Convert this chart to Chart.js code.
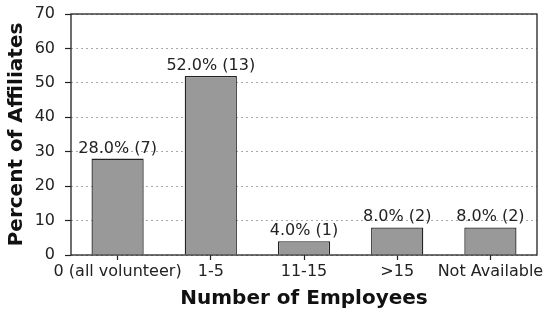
<!DOCTYPE html>
<html>
<head>
<meta charset="utf-8">
<script src="https://cdn.jsdelivr.net/npm/chart.js@4.4.1/dist/chart.umd.min.js"></script>
<style>
  html, body { margin: 0; padding: 0; background: #fff; }
  #wrap { position: relative; width: 550px; height: 322px; }
</style>
</head>
<body>
<div id="wrap"><canvas id="c"></canvas></div>
<script>
'use strict';

// data
var categories = ['0 (all volunteer)', '1-5', '11-15', '>15', 'Not Available'];
var percents = [28.0, 52.0, 4.0, 8.0, 8.0];
var counts = [7, 13, 1, 2, 2];
var yTicks = [0, 10, 20, 30, 40, 50, 60, 70];

var FONT = "'DejaVu Sans', sans-serif";
var INK = '#222';

// value labels above each bar
var barLabels = {
  id: 'barLabels',
  afterDatasetsDraw: function (chart) {
    var ctx = chart.ctx;
    var meta = chart.getDatasetMeta(0);
    ctx.save();
    ctx.font = '16px ' + FONT;
    ctx.fillStyle = INK;
    ctx.textAlign = 'center';
    ctx.textBaseline = 'alphabetic';
    meta.data.forEach(function (bar, i) {
      var txt = percents[i].toFixed(1) + '% (' + counts[i] + ')';
      ctx.fillText(txt, bar.x, bar.y - 6);
    });
    ctx.restore();
  }
};

// box round the plot area
var frame = {
  id: 'frame',
  afterDraw: function (chart) {
    var a = chart.chartArea, ctx = chart.ctx;
    ctx.save();
    ctx.strokeStyle = INK;
    ctx.lineWidth = 1.3;
    ctx.strokeRect(a.left, a.top, a.right - a.left, a.bottom - a.top);
    ctx.restore();
  }
};

new Chart(document.getElementById('c'), {
  type: 'bar',
  data: {
    labels: categories,
    datasets: [{
      data: percents,
      backgroundColor: '#999999',
      borderColor: INK,
      borderWidth: 1.3,
      barPercentage: 0.56,
      categoryPercentage: 1.0
    }]
  },
  plugins: [barLabels, frame],
  options: {
    responsive: true,
    maintainAspectRatio: false,
    animation: false,
    layout: { padding: { top: 14, right: 13, left: 0, bottom: 0 } },
    plugins: { legend: { display: false }, tooltip: { enabled: false } },
    scales: {
      x: {
        grid: { offset: false, drawOnChartArea: false, drawTicks: true, tickLength: 5, tickColor: INK, tickWidth: 1.2 },
        border: { display: false },
        ticks: { color: INK, font: { family: FONT, size: 16 }, padding: 2, maxRotation: 0, autoSkip: false },
        title: { display: true, text: 'Number of Employees', color: '#111',
                 font: { family: FONT, size: 20, weight: 'bold', lineHeight: 1.2 }, padding: 11 },
        afterFit: function (s) { s.height = 67; s.paddingLeft = 0; s.paddingRight = 0; }
      },
      y: {
        min: 0, max: 70,
        afterBuildTicks: function (s) { s.ticks = yTicks.map(function (v) { return { value: v }; }); },
        grid: { color: '#aaa', lineWidth: 1, tickLength: 6, tickColor: INK, tickWidth: 1.2,
                tickBorderDash: [] },
        border: { display: false, dash: [2, 3] },
        ticks: { color: INK, font: { family: FONT, size: 16 }, padding: 10 },
        title: { display: true, text: 'Percent of Affiliates', color: '#111',
                 font: { family: FONT, size: 20, weight: 'bold', lineHeight: 1.2 }, padding: 5 },
        afterFit: function (s) { s.width = 71; s.paddingTop = 0; s.paddingBottom = 0; }
      }
    }
  }
});
</script>
</body>
</html>
